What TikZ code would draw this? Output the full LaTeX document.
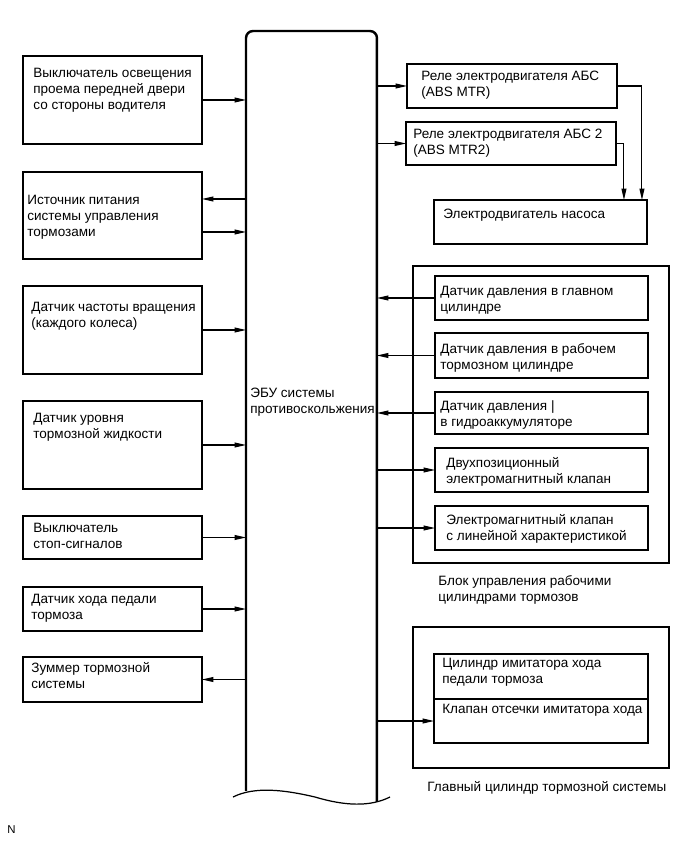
\documentclass[tikz,border=0pt]{standalone}
\usepackage{fontspec}
\setmainfont{Liberation Sans}
\usetikzlibrary{arrows.meta,calc}

\tikzset{
  box/.style={draw, line width=1pt, anchor=north west, inner sep=0pt, outer sep=0pt},
  ecubox/.style={anchor=north west, inner sep=0pt, outer sep=0pt, minimum width=2.62cm, minimum height=15.2cm},
  txt/.style={anchor=north west, inner sep=0pt, align=left, yshift=-1.1pt, font=\fontsize{7.7}{9.1}\selectfont, execute at begin node=\strut},
  arr/.style={line width=0.6pt, -{Triangle[length=6.5pt,width=2.8pt]}},
}

\begin{document}
\begin{tikzpicture}[x=0.02cm,y=-0.02cm]
\useasboundingbox (0,0) rectangle (690,855);

% ECU
\node[ecubox] (ecu) at (246,31) {};
\draw[line width=1.4pt, rounded corners=4pt] (ecu.south west) -- (ecu.north west) -- (ecu.north east) -- ($(ecu.south east)+(0,11)$);
\draw[line width=0.7pt] (233,797) .. controls (255,786) and (285,790) .. (315,797) .. controls (345,806) and (370,807) .. (390,797);
\node[txt] (tecu) at (250,386) {ЭБУ системы\\противоскольжения};

% left side
\node[box, minimum width=3.58cm, minimum height=1.76cm] (b1) at (23,56) {};
\node[box, minimum width=3.58cm, minimum height=1.74cm] (b2) at (23,172) {};
\node[box, minimum width=3.58cm, minimum height=1.76cm] (b3) at (23,286) {};
\node[box, minimum width=3.58cm, minimum height=1.76cm] (b4) at (23,401) {};
\node[box, minimum width=3.58cm, minimum height=0.86cm] (b5) at (23,516) {};
\node[box, minimum width=3.58cm, minimum height=0.88cm] (b6) at (23,587) {};
\node[box, minimum width=3.58cm, minimum height=0.9cm] (b7) at (23,657) {};

\node[txt] (t1) at (33,66.3) {Выключатель освещения\\проема передней двери\\со стороны водителя};
\node[txt] (t2) at (27,192.8) {Источник питания\\системы управления\\тормозами};
\node[txt] (t3) at (31,299.5) {Датчик частоты вращения\\(каждого колеса)};
\node[txt] (t4) at (33,410.5) {Датчик уровня\\тормозной жидкости};
\node[txt] (t5) at (33,521) {Выключатель\\стоп-сигналов};
\node[txt] (t6) at (31,592) {Датчик хода педали\\тормоза};
\node[txt] (t7) at (31,660) {Зуммер тормозной\\системы};

\coordinate (b2a) at ($(b2.east)+(0,-16.5)$);
\coordinate (b2b) at ($(b2.east)+(0,16.5)$);
\draw[arr] (b1.east) -- (b1.east -| ecu.west);
\draw[arr] (b2a -| ecu.west) -- (b2a);
\draw[arr] (b2b) -- (b2b -| ecu.west);
\draw[arr] (b3.east) -- (b3.east -| ecu.west);
\draw[arr] (b4.east) -- (b4.east -| ecu.west);
\draw[arr] (b5.east) -- (b5.east -| ecu.west);
\draw[arr] (b6.east) -- (b6.east -| ecu.west);
\draw[arr] (b7.east -| ecu.west) -- (b7.east);

% relays and pump
\node[box, minimum width=4.2cm, minimum height=0.88cm] (r1) at (407,64) {};
\node[box, minimum width=4.2cm, minimum height=0.86cm] (r2) at (406,122) {};
\node[box, minimum width=4.26cm, minimum height=0.88cm] (pump) at (434,200) {};
\node[txt] (tr1) at (421,68.8) {Реле электродвигателя АБС\\(ABS MTR)};
\node[txt] (tr2) at (413,126.5) {Реле электродвигателя АБС 2\\(ABS MTR2)};
\node[txt] (tpump) at (443,205.5) {Электродвигатель насоса};

\draw[arr] (r1.west -| ecu.east) -- (r1.west);
\draw[arr] (r2.west -| ecu.east) -- (r2.west);
\draw[arr] (r1.east) -| ($(pump.north east)+(-5,0)$);
\draw[arr] (r2.east) -| ($(pump.north east)+(-23,0)$);

% brake actuator
\node[box, minimum width=5.12cm, minimum height=5.94cm] (blk) at (413,266) {};
\node[box, minimum width=4.26cm, minimum height=0.88cm] (s1) at (435,276) {};
\node[box, minimum width=4.26cm, minimum height=0.9cm] (s2) at (435,333) {};
\node[box, minimum width=4.26cm, minimum height=0.84cm] (s3) at (435,392) {};
\node[box, minimum width=4.26cm, minimum height=0.88cm] (v1) at (435,448) {};
\node[box, minimum width=4.26cm, minimum height=0.88cm] (v2) at (435,506) {};
\node[txt] (ts1) at (440,283.8) {Датчик давления в главном\\цилиндре};
\node[txt] (ts2) at (440,341) {Датчик давления в рабочем\\тормозном цилиндре};
\node[txt] (ts3) at (440,398) {Датчик давления |\\в гидроаккумуляторе};
\node[txt] (tv1) at (446,455) {Двухпозиционный\\электромагнитный клапан};
\node[txt] (tv2) at (446,512) {Электромагнитный клапан\\с линейной характеристикой};
\node[txt] (tblk) at (438,573) {Блок управления рабочими\\цилиндрами тормозов};

\draw[arr] (s1.west) -- (s1.west -| ecu.east);
\draw[arr] (s2.west) -- (s2.west -| ecu.east);
\draw[arr] (s3.west) -- (s3.west -| ecu.east);
\draw[arr] (v1.west -| ecu.east) -- (v1.west);
\draw[arr] (v2.west -| ecu.east) -- (v2.west);

% master cylinder
\node[box, minimum width=5.12cm, minimum height=2.82cm] (mc) at (413,627) {};
\node[box, minimum width=4.28cm, minimum height=0.9cm] (mc1) at (434,654) {};
\node[box, minimum width=4.28cm, minimum height=0.88cm] (mc2) at (434,699) {};
\node[txt] (tmc1) at (442,655.5) {Цилиндр имитатора хода\\педали тормоза};
\node[txt] (tmc2) at (442,700.5) {Клапан отсечки имитатора хода};
\node[txt] (tmc) at (427,778) {Главный цилиндр тормозной системы};

\draw[arr] (mc2.west -| ecu.east) -- (mc2.west);

\node[txt, font=\fontsize{6.5}{8}\selectfont] (tn) at (7,821) {N};
\end{tikzpicture}
\end{document}
